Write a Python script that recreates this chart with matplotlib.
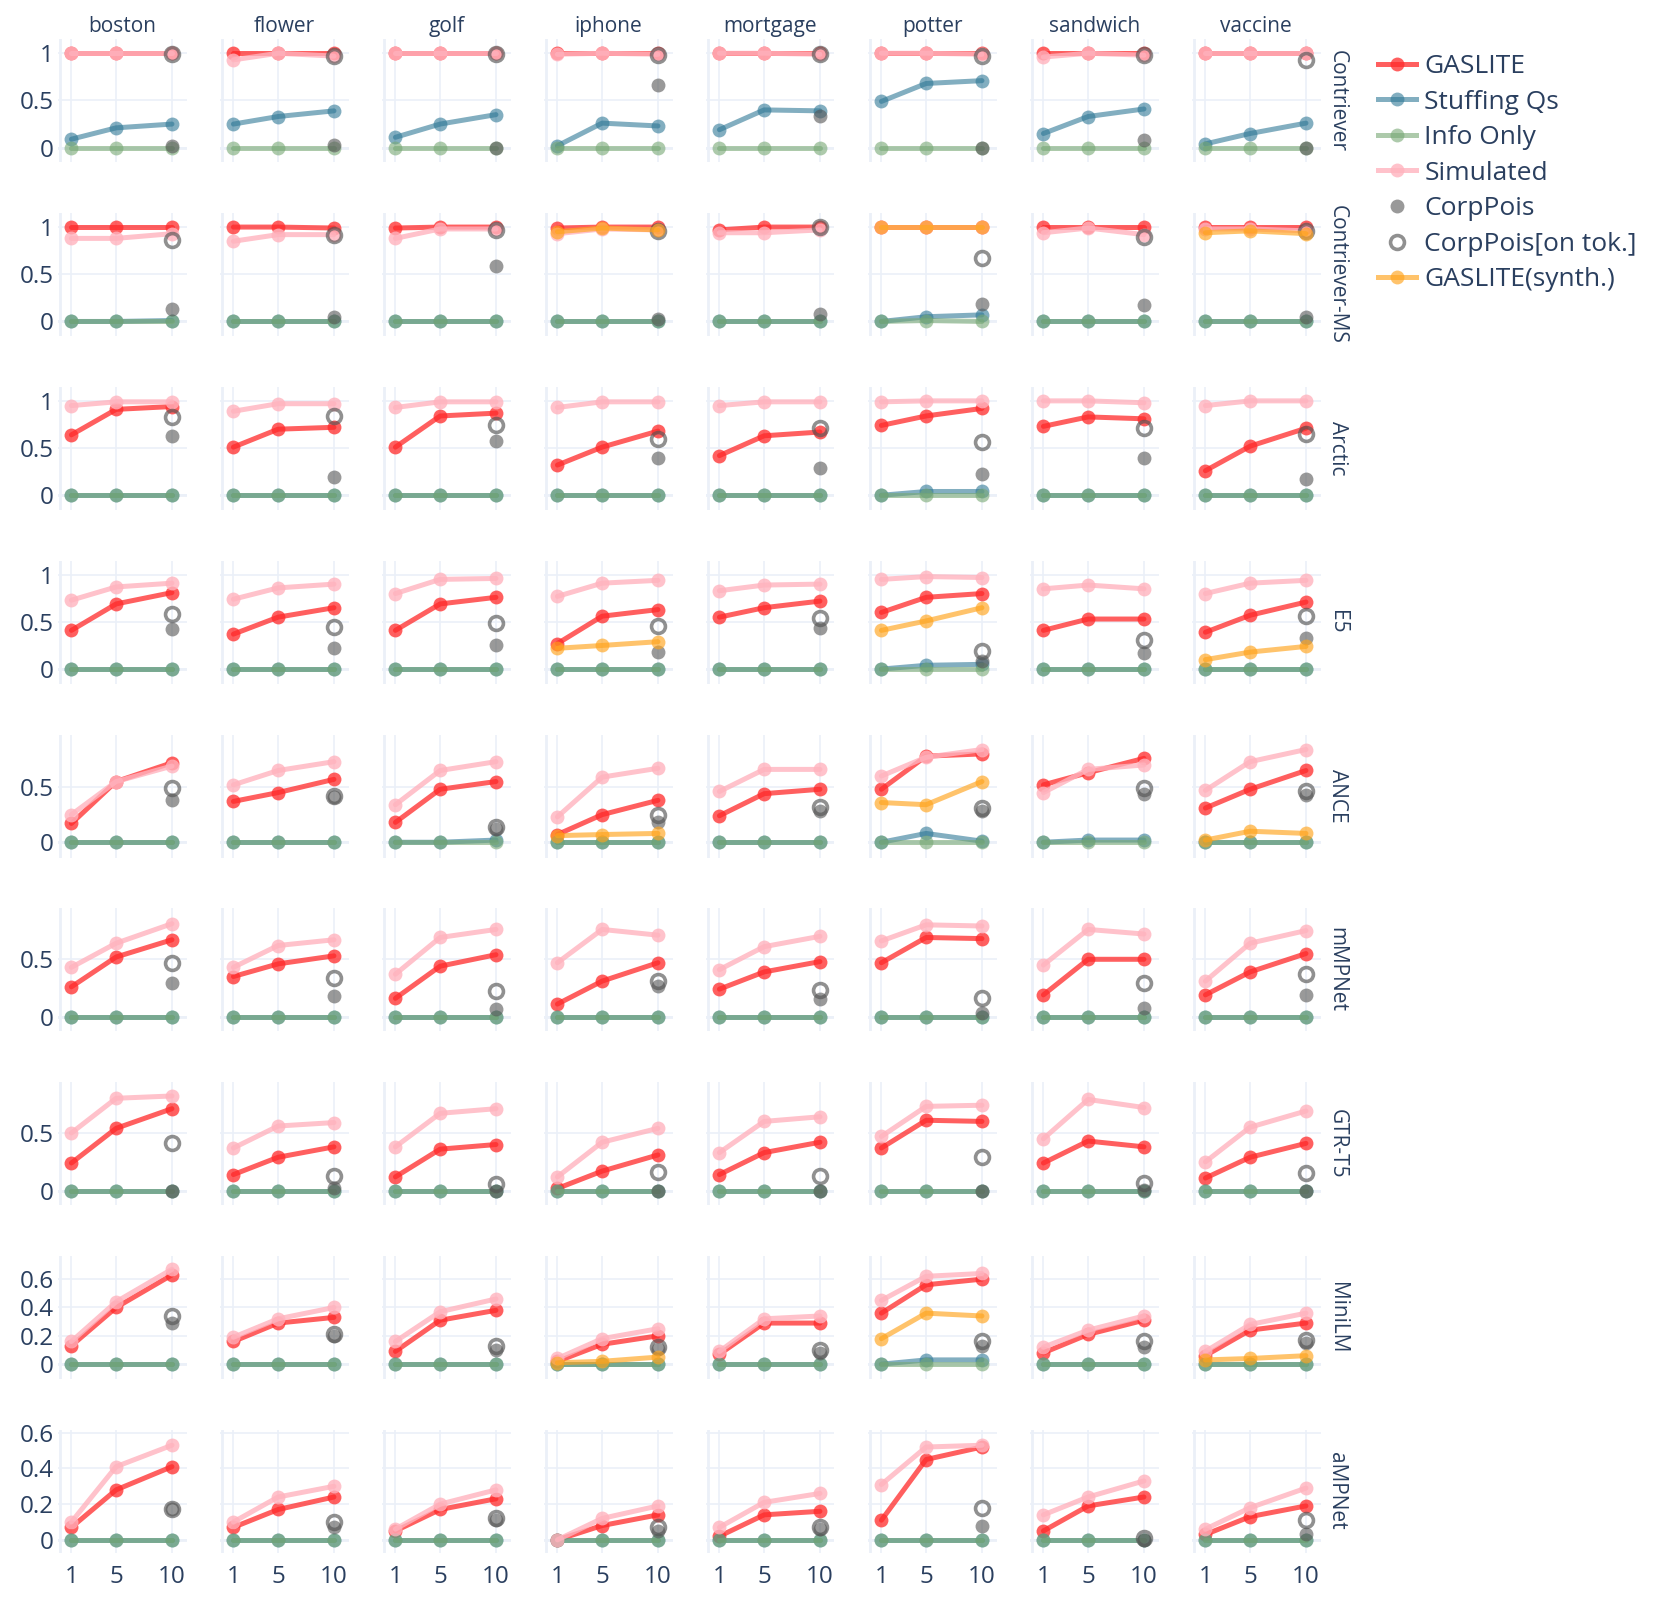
import matplotlib
matplotlib.use('Agg')
import matplotlib.pyplot as plt
from matplotlib.lines import Line2D

plt.rcParams['font.family'] = ['Open Sans', 'DejaVu Sans']

models = ['Contriever', 'Contriever-MS', 'Arctic', 'E5', 'ANCE',
          'mMPNet', 'GTR-T5', 'MiniLM', 'aMPNet']
concepts = ['boston', 'flower', 'golf', 'iphone', 'mortgage',
            'potter', 'sandwich', 'vaccine']
k_values = [1, 5, 10]

# [model][concept] -> values at k = 1, 5, 10
gaslite = [
    [[1, 1, 1], [1, 1, 1], [1, 1, 1], [1, 1, 1], [1, 1, 1], [1, 1, 1], [1, 1, 1], [1, 1, 1]],
    [[1, 1, 1], [1, 1, 0.99], [0.99, 1, 1], [0.99, 1, 1], [0.97, 1, 1], [1, 1, 1], [1, 1, 1], [1, 1, 1]],
    [[0.64, 0.91, 0.94], [0.51, 0.70, 0.72], [0.51, 0.84, 0.87], [0.32, 0.51, 0.68],
     [0.42, 0.63, 0.67], [0.74, 0.84, 0.92], [0.73, 0.83, 0.81], [0.26, 0.52, 0.71]],
    [[0.41, 0.69, 0.81], [0.37, 0.55, 0.65], [0.41, 0.69, 0.76], [0.27, 0.56, 0.63],
     [0.55, 0.65, 0.72], [0.60, 0.76, 0.80], [0.41, 0.53, 0.53], [0.39, 0.57, 0.71]],
    [[0.17, 0.55, 0.72], [0.37, 0.45, 0.57], [0.18, 0.48, 0.55], [0.07, 0.25, 0.38],
     [0.24, 0.44, 0.48], [0.48, 0.78, 0.80], [0.52, 0.63, 0.76], [0.31, 0.48, 0.65]],
    [[0.26, 0.52, 0.67], [0.35, 0.46, 0.53], [0.16, 0.44, 0.54], [0.11, 0.31, 0.47],
     [0.24, 0.39, 0.48], [0.47, 0.69, 0.68], [0.19, 0.50, 0.50], [0.19, 0.39, 0.55]],
    [[0.24, 0.54, 0.71], [0.14, 0.29, 0.38], [0.12, 0.36, 0.40], [0.02, 0.17, 0.31],
     [0.14, 0.33, 0.42], [0.37, 0.61, 0.60], [0.24, 0.43, 0.38], [0.11, 0.29, 0.41]],
    [[0.13, 0.40, 0.63], [0.16, 0.29, 0.33], [0.09, 0.31, 0.38], [0.02, 0.14, 0.20],
     [0.07, 0.29, 0.29], [0.36, 0.56, 0.60], [0.08, 0.21, 0.31], [0.06, 0.24, 0.29]],
    [[0.07, 0.28, 0.41], [0.07, 0.17, 0.24], [0.05, 0.17, 0.23], [0.0, 0.08, 0.14],
     [0.02, 0.14, 0.16], [0.11, 0.45, 0.52], [0.05, 0.19, 0.24], [0.03, 0.13, 0.19]],
]

simulated = [
    [[1, 1, 1], [0.93, 1, 0.97], [1, 1, 1], [0.99, 1, 0.99], [1, 1, 0.99], [1, 1, 0.99], [0.96, 1, 0.98], [1, 1, 1]],
    [[0.88, 0.88, 0.93], [0.85, 0.92, 0.92], [0.88, 0.98, 0.98], [0.93, 0.98, 0.97],
     [0.94, 0.94, 0.97], [1, 1, 1], [0.94, 0.99, 0.92], [0.98, 0.98, 0.96]],
    [[0.95, 0.99, 0.99], [0.89, 0.97, 0.97], [0.93, 0.99, 0.99], [0.93, 0.99, 0.99],
     [0.95, 0.99, 0.99], [0.99, 1.0, 1.0], [1.0, 1.0, 0.98], [0.95, 1.0, 1.0]],
    [[0.73, 0.87, 0.91], [0.74, 0.86, 0.90], [0.80, 0.95, 0.96], [0.77, 0.91, 0.94],
     [0.83, 0.89, 0.90], [0.95, 0.98, 0.97], [0.85, 0.89, 0.85], [0.80, 0.91, 0.94]],
    [[0.25, 0.55, 0.69], [0.52, 0.65, 0.73], [0.34, 0.65, 0.73], [0.23, 0.59, 0.67],
     [0.46, 0.66, 0.66], [0.60, 0.77, 0.84], [0.45, 0.66, 0.70], [0.47, 0.73, 0.84]],
    [[0.43, 0.64, 0.81], [0.43, 0.62, 0.67], [0.37, 0.69, 0.76], [0.47, 0.76, 0.71],
     [0.41, 0.61, 0.70], [0.66, 0.80, 0.79], [0.45, 0.76, 0.72], [0.31, 0.64, 0.75]],
    [[0.50, 0.80, 0.82], [0.37, 0.56, 0.59], [0.38, 0.67, 0.71], [0.12, 0.42, 0.54],
     [0.33, 0.60, 0.64], [0.47, 0.73, 0.74], [0.45, 0.79, 0.72], [0.25, 0.55, 0.69]],
    [[0.16, 0.44, 0.67], [0.19, 0.32, 0.40], [0.16, 0.37, 0.46], [0.04, 0.18, 0.25],
     [0.09, 0.32, 0.34], [0.45, 0.62, 0.64], [0.12, 0.24, 0.34], [0.09, 0.28, 0.36]],
    [[0.10, 0.41, 0.53], [0.10, 0.24, 0.30], [0.06, 0.20, 0.28], [0.0, 0.12, 0.19],
     [0.07, 0.21, 0.26], [0.31, 0.52, 0.53], [0.14, 0.24, 0.33], [0.06, 0.18, 0.29]],
]

stuffing_qs = [
    [[0.09, 0.21, 0.25], [0.25, 0.33, 0.39], [0.11, 0.25, 0.35], [0.02, 0.26, 0.23],
     [0.19, 0.40, 0.39], [0.49, 0.68, 0.71], [0.15, 0.33, 0.41], [0.04, 0.15, 0.26]],
    [[0, 0, 0.01], [0, 0, 0], [0, 0, 0], [0, 0, 0], [0, 0, 0], [0, 0.05, 0.07], [0, 0, 0], [0, 0, 0]],
    [[0, 0, 0], [0, 0, 0], [0, 0, 0], [0, 0, 0], [0, 0, 0], [0, 0.04, 0.04], [0, 0, 0], [0, 0, 0]],
    [[0, 0, 0], [0, 0, 0], [0, 0, 0], [0, 0, 0], [0, 0, 0], [0, 0.04, 0.05], [0, 0, 0], [0, 0, 0]],
    [[0, 0, 0], [0, 0, 0], [0, 0, 0.02], [0, 0, 0], [0, 0, 0], [0, 0.08, 0.01], [0, 0.02, 0.02], [0, 0, 0]],
    [[0, 0, 0], [0, 0, 0], [0, 0, 0], [0, 0, 0], [0, 0, 0], [0, 0, 0], [0, 0, 0], [0, 0, 0]],
    [[0, 0, 0], [0, 0, 0], [0, 0, 0], [0, 0, 0], [0, 0, 0], [0, 0, 0], [0, 0, 0], [0, 0, 0]],
    [[0, 0, 0], [0, 0, 0], [0, 0, 0], [0, 0, 0], [0, 0, 0], [0, 0.03, 0.03], [0, 0, 0], [0, 0, 0]],
    [[0, 0, 0], [0, 0, 0], [0, 0, 0], [0, 0, 0], [0, 0, 0], [0, 0, 0], [0, 0, 0], [0, 0, 0]],
]

info_only = [
    [[0, 0, 0], [0, 0, 0], [0, 0, 0], [0, 0, 0], [0, 0, 0], [0, 0, 0], [0, 0, 0], [0, 0, 0]],
    [[0, 0, 0], [0, 0, 0], [0, 0, 0], [0, 0, 0], [0, 0, 0], [0, 0.01, 0], [0, 0, 0], [0, 0, 0]],
    [[0, 0, 0], [0, 0, 0], [0, 0, 0], [0, 0, 0], [0, 0, 0], [0, 0, 0], [0, 0, 0], [0, 0, 0]],
    [[0, 0, 0], [0, 0, 0], [0, 0, 0], [0, 0, 0], [0, 0, 0], [0, 0, 0], [0, 0, 0], [0, 0, 0]],
    [[0, 0, 0], [0, 0, 0], [0, 0, 0], [0, 0, 0], [0, 0, 0], [0, 0, 0], [0, 0, 0], [0, 0, 0]],
    [[0, 0, 0], [0, 0, 0], [0, 0, 0], [0, 0, 0], [0, 0, 0], [0, 0, 0], [0, 0, 0], [0, 0, 0]],
    [[0, 0, 0], [0, 0, 0], [0, 0, 0], [0, 0, 0], [0, 0, 0], [0, 0, 0], [0, 0, 0], [0, 0, 0]],
    [[0, 0, 0], [0, 0, 0], [0, 0, 0], [0, 0, 0], [0, 0, 0], [0, 0, 0], [0, 0, 0], [0, 0, 0]],
    [[0, 0, 0], [0, 0, 0], [0, 0, 0], [0, 0, 0], [0, 0, 0], [0, 0, 0], [0, 0, 0], [0, 0, 0]],
]

# synthetic-query GASLITE only run for iphone / potter / vaccine
synth = [
    [None, None, None, None, None, None, None, None],
    [None, None, None, [0.95, 0.99, 0.97], None, [1, 1, 1], None, [0.94, 0.96, 0.93]],
    [None, None, None, None, None, None, None, None],
    [None, None, None, [0.22, 0.25, 0.29], None, [0.41, 0.51, 0.65], None, [0.10, 0.18, 0.24]],
    [None, None, None, [0.06, 0.07, 0.08], None, [0.36, 0.34, 0.55], None, [0.02, 0.10, 0.08]],
    [None, None, None, None, None, None, None, None],
    [None, None, None, None, None, None, None, None],
    [None, None, None, [0.01, 0.02, 0.05], None, [0.18, 0.36, 0.34], None, [0.03, 0.04, 0.06]],
    [None, None, None, None, None, None, None, None],
]

# CorpPois baselines, only at k=10
corppois = [
    [0.02, 0.03, 0.0, 0.66, 0.34, 0.0, 0.08, 0.0],
    [0.13, 0.05, 0.59, 0.03, 0.08, 0.18, 0.17, 0.05],
    [0.63, 0.19, 0.58, 0.39, 0.29, 0.23, 0.40, 0.17],
    [0.42, 0.22, 0.25, 0.18, 0.44, 0.09, 0.17, 0.33],
    [0.38, 0.41, 0.12, 0.18, 0.28, 0.28, 0.44, 0.43],
    [0.29, 0.18, 0.07, 0.27, 0.15, 0.03, 0.08, 0.19],
    [0.0, 0.02, 0.0, 0.0, 0.0, 0.0, 0.01, 0.0],
    [0.29, 0.20, 0.10, 0.11, 0.08, 0.13, 0.12, 0.15],
    [0.17, 0.07, 0.11, 0.05, 0.06, 0.08, 0.0, 0.03],
]
corppois_tok = [
    [0.99, 0.97, 0.99, 0.98, 0.99, 0.97, 0.98, 0.93],
    [0.86, 0.92, 0.97, 0.96, 1.0, 0.67, 0.90, 0.96],
    [0.83, 0.84, 0.74, 0.60, 0.71, 0.56, 0.71, 0.65],
    [0.58, 0.45, 0.49, 0.46, 0.54, 0.19, 0.31, 0.56],
    [0.49, 0.42, 0.14, 0.25, 0.32, 0.31, 0.49, 0.46],
    [0.47, 0.34, 0.22, 0.31, 0.23, 0.16, 0.29, 0.37],
    [0.41, 0.13, 0.06, 0.16, 0.13, 0.29, 0.07, 0.15],
    [0.34, 0.21, 0.13, 0.12, 0.10, 0.16, 0.16, 0.17],
    [0.17, 0.10, 0.12, 0.07, 0.07, 0.18, 0.01, 0.11],
]

# per-row y axis setup
y_lims = [(-0.155, 1.148)] * 4 + [(-0.138, 0.976), (-0.127, 0.944), (-0.124, 0.94),
                                  (-0.104, 0.764), (-0.072, 0.617)]
y_ticks = [[0, 0.5, 1]] * 4 + [[0, 0.5]] * 3 + [[0, 0.2, 0.4, 0.6]] * 2
y_ticklabels = [['0', '0.5', '1']] * 4 + [['0', '0.5']] * 3 + [['0', '0.2', '0.4', '0.6']] * 2

C_GAS = '#ff2a2a'
C_STUFF = '#2f7896'
C_INFO = '#77a874'
C_SIM = '#ffb3be'
C_CP = '#555555'
C_SYN = '#ffa41c'
GRID = '#ebf0f8'
TXT = '#2a3f5f'

W, H = 1661, 1598
LEFT0, COLSTEP, PW = 58, 162, 128.5
TOP0, ROWSTEP, PH = 39.3, 173.8, 123

LW = 3.6
MS = 10


def line(ax, vals, color, alpha, z):
    ax.plot(k_values, vals, color=color, alpha=alpha, lw=LW, marker='o', ms=MS,
            mew=0, zorder=z, solid_joinstyle='round', solid_capstyle='round')


def draw_panel(ax, r, c):
    ax.set_xlim(-0.2, 11.3)
    ax.set_ylim(*y_lims[r])
    for s in ax.spines.values():
        s.set_visible(False)
    ax.set_xticks(k_values)
    ax.set_yticks(y_ticks[r])
    ax.grid(True, color=GRID, lw=1.2, zorder=0)
    ax.set_axisbelow(True)
    ax.axhline(0, color=GRID, lw=2, zorder=0.5)
    ax.axvline(0, color=GRID, lw=2, zorder=0.5)
    ax.tick_params(length=0, labelsize=17.5, labelcolor=TXT)
    ax.tick_params(axis='y', pad=3)
    ax.tick_params(axis='x', pad=9)
    if c == 0:
        ax.set_yticklabels(y_ticklabels[r])
    else:
        ax.set_yticklabels([])
    if r == len(models) - 1:
        ax.set_xticklabels([str(k) for k in k_values])
    else:
        ax.set_xticklabels([])

    line(ax, gaslite[r][c], C_GAS, 0.75, 2)
    line(ax, stuffing_qs[r][c], C_STUFF, 0.6, 3)
    line(ax, info_only[r][c], C_INFO, 0.6, 4)
    line(ax, simulated[r][c], C_SIM, 0.8, 5)
    ax.plot([10], [corppois[r][c]], 'o', color=C_CP, alpha=0.6, ms=MS, mew=0, zorder=6)
    ax.plot([10], [corppois_tok[r][c]], 'o', mfc='none', mec=C_CP, alpha=0.65,
            ms=MS, mew=2.6, zorder=7)
    if synth[r][c] is not None:
        line(ax, synth[r][c], C_SYN, 0.65, 8)


def run():
    fig = plt.figure(figsize=(W / 100, H / 100), dpi=100)
    for r in range(len(models)):
        for c in range(len(concepts)):
            left = LEFT0 + c * COLSTEP
            top = TOP0 + r * ROWSTEP
            ax = fig.add_axes([left / W, 1 - (top + PH) / H, PW / W, PH / H])
            draw_panel(ax, r, c)
            if r == 0:
                fig.text((left + PW / 2) / W, 1 - 32 / H, concepts[c], ha='center',
                         va='baseline', fontsize=15, color=TXT)
        top = TOP0 + r * ROWSTEP
        fig.text(1337 / W, 1 - (top + PH / 2) / H, models[r], rotation=270,
                 ha='center', va='center', fontsize=15, color=TXT)

    handles = [
        Line2D([], [], color=C_GAS, alpha=0.75, lw=LW, marker='o', ms=MS, mew=0),
        Line2D([], [], color=C_STUFF, alpha=0.6, lw=LW, marker='o', ms=MS, mew=0),
        Line2D([], [], color=C_INFO, alpha=0.6, lw=LW, marker='o', ms=MS, mew=0),
        Line2D([], [], color=C_SIM, alpha=0.8, lw=LW, marker='o', ms=MS, mew=0),
        Line2D([], [], color=C_CP, alpha=0.6, lw=0, marker='o', ms=MS, mew=0),
        Line2D([], [], color=C_CP, alpha=0.65, lw=0, marker='o', ms=MS, mfc='none', mew=2.6),
        Line2D([], [], color=C_SYN, alpha=0.65, lw=LW, marker='o', ms=MS, mew=0),
    ]
    labels = ['GASLITE', 'Stuffing Qs', 'Info Only', 'Simulated', 'CorpPois',
              'CorpPois[on tok.]', 'GASLITE(synth.)']
    leg = fig.legend(handles, labels, loc='upper left', bbox_to_anchor=(1378 / W, 1 - 54 / H),
                     frameon=False, fontsize=19, handlelength=1.45, handletextpad=0.3,
                     labelspacing=0.40, borderpad=0, borderaxespad=0)
    for t in leg.get_texts():
        t.set_color(TXT)

    fig.savefig('out.png', dpi=100, facecolor='white')


if __name__ == "__main__":
    run()
